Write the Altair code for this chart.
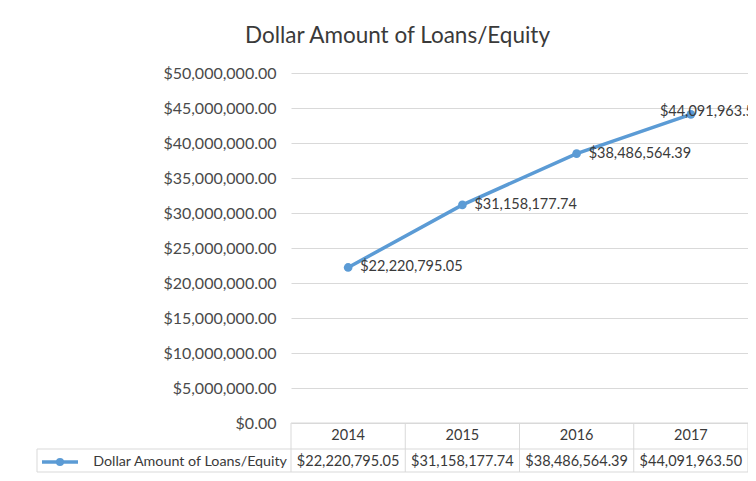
import altair as alt
import pandas as pd

years = ["2014", "2015", "2016", "2017"]
values = [22220795.05, 31158177.74, 38486564.39, 44091963.50]
series_name = "Dollar Amount of Loans/Equity"
title_text = "Dollar Amount of Loans/Equity"
y_ticks = [0, 5e6, 10e6, 15e6, 20e6, 25e6, 30e6, 35e6, 40e6, 45e6, 50e6]

df = pd.DataFrame({"year": years, "value": values})

BLUE = "#5b9bd5"
TXT = "#3a3a3a"
LINE = "#d9d9d9"
FONT = "Lato"

W, H = 457, 350
ROW1_Y, ROW1_MID = H, H + 13
ROW2_TOP, ROW2_MID, ROW2_BOT = H + 26, H + 39, H + 49

xenc = alt.X("year:N", sort=years, axis=None,
             scale=alt.Scale(type="band", paddingInner=0, paddingOuter=0))
yenc = alt.Y("value:Q",
             scale=alt.Scale(domain=[0, 50e6], nice=False),
             axis=alt.Axis(values=y_ticks, format="$,.2f", title=None,
                           ticks=False, domain=False, labelPadding=15,
                           labelOverlap=False,
                           labelFont=FONT, labelFontSize=16, labelColor="#4a4a4a",
                           gridColor=LINE, gridWidth=1))

base = alt.Chart(df)

line = base.mark_line(color=BLUE, strokeWidth=3.5).encode(x=xenc, y=yenc)
pts = base.mark_point(filled=True, color=BLUE, size=75, opacity=1).encode(x=xenc, y=yenc)

lab_main = base.transform_filter(alt.datum.year != "2017").mark_text(
    align="left", baseline="middle", dx=12, font=FONT, fontSize=14.5, color=TXT
).encode(x=xenc, y=yenc, text=alt.Text("value:Q", format="$,.2f"))
lab_last = base.transform_filter(alt.datum.year == "2017").mark_text(
    align="left", baseline="middle", dx=-31, dy=-2, font=FONT, fontSize=14.5, color=TXT
).encode(x=xenc, y=yenc, text=alt.Text("value:Q", format="$,.2f"))

# data table
vlines = base.mark_rule(color=LINE, strokeWidth=1).encode(
    x=alt.X("year:N", sort=years, axis=None, bandPosition=0,
            scale=alt.Scale(type="band", paddingInner=0, paddingOuter=0)),
    y=alt.value(ROW1_Y), y2=alt.value(ROW2_BOT))
one = alt.Chart(pd.DataFrame({"k": [0]}))
right_line = one.mark_rule(color=LINE).encode(x=alt.value(W), y=alt.value(ROW1_Y), y2=alt.value(ROW2_BOT))
left_line = one.mark_rule(color=LINE).encode(x=alt.value(-254), y=alt.value(ROW2_TOP), y2=alt.value(ROW2_BOT))
top_line = one.mark_rule(color=LINE).encode(x=alt.value(0), x2=alt.value(W), y=alt.value(ROW1_Y))
mid_line = one.mark_rule(color=LINE).encode(x=alt.value(-254), x2=alt.value(W), y=alt.value(ROW2_TOP))
bot_line = one.mark_rule(color=LINE).encode(x=alt.value(-254), x2=alt.value(W), y=alt.value(ROW2_BOT))

year_txt = base.mark_text(font=FONT, fontSize=14.5, color=TXT, baseline="middle").encode(
    x=xenc, y=alt.value(ROW1_MID), text="year:N")
val_txt = base.mark_text(font=FONT, fontSize=14.5, color=TXT, baseline="middle").encode(
    x=xenc, y=alt.value(ROW2_MID), text=alt.Text("value:Q", format="$,.2f"))

leg_line = one.mark_rule(color=BLUE, strokeWidth=3.5).encode(
    x=alt.value(-249), x2=alt.value(-213), y=alt.value(ROW2_MID))
leg_pt = one.mark_point(filled=True, color=BLUE, size=65, opacity=1).encode(
    x=alt.value(-231), y=alt.value(ROW2_MID))
leg_txt = alt.Chart(pd.DataFrame({"name": [series_name]})).mark_text(
    align="right", baseline="middle", font=FONT, fontSize=14.3, color=TXT
).encode(x=alt.value(-4), y=alt.value(ROW2_MID), text="name:N")

chart = alt.layer(
    line, pts, lab_main, lab_last,
    vlines, right_line, left_line, top_line, mid_line, bot_line,
    year_txt, val_txt, leg_line, leg_pt, leg_txt
).properties(
    width=W, height=H,
    background="white",
    title=alt.TitleParams(title_text, anchor="middle", dx=-122, offset=18,
                          font=FONT, fontSize=22.5, fontWeight="normal", color=TXT),
    autosize=alt.AutoSizeParams(type="none"),
    padding={"left": 283, "top": 65, "right": 0, "bottom": 50},
).configure_view(strokeWidth=0, stroke="transparent")

chart.save("out.html", embed_options={"renderer": "svg", "actions": False})
